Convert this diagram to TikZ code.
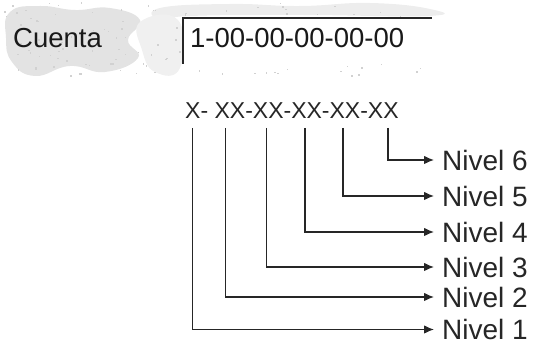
\documentclass[tikz,border=0pt]{standalone}
\usepackage{fontspec}
\setmainfont{Liberation Sans}
\usetikzlibrary{arrows.meta}
\begin{document}
\begin{tikzpicture}[x=1pt,y=1pt,
  lvl/.style={anchor=west,inner sep=0pt,font=\fontsize{28}{30}\selectfont,text=black!85},
  conn/.style={draw=black!85,line width=1.1pt,-{Latex[length=10pt,width=8.5pt]}},
  field/.style={anchor=west,inner sep=0pt,font=\fontsize{27.5}{30}\selectfont,text=black!90}]
\useasboundingbox (0,0) rectangle (536,-344);
% grey noisy background of the form
\fill[black!11] plot[smooth cycle,tension=0.8] coordinates {(10,-12) (40,-6) (75,-10) (110,-8) (140,-20) (128,-40) (138,-58) (105,-72) (70,-66) (35,-76) (12,-62) (6,-38)};
\fill[black!7] plot[smooth cycle,tension=0.8] coordinates {(160,-8) (230,-4) (300,-6) (370,-3) (430,-9) (428,-16) (300,-15) (190,-16) (160,-20)};
\fill[black!6] plot[smooth cycle,tension=0.8] coordinates {(140,-22) (178,-20) (180,-68) (155,-72) (142,-50)};
\pgfmathsetseed{7}
\foreach \k in {1,...,140}{
  \pgfmathsetmacro{\px}{rnd*430+4}
  \pgfmathsetmacro{\py}{-rnd*74-3}
  \fill[black!18] (\px,\py) rectangle ++(1.5,1.5);
}
% text field
\fill[white] (183,-18) rectangle (432,-64);
\draw[black!85,line width=2pt] (183,-64) -- (183,-18) -- (432,-18);
\node[field] (lab) at (13,-38) {Cuenta};
\node[field] (val) at (190,-38.5) {1-00-00-00-00-00};
% mask
\node[anchor=west,inner sep=0pt,font=\fontsize{23}{25}\selectfont,text=black!85] (mask) at (185,-111) {X- XX-XX-XX-XX-XX};
% line tops
\coordinate (t1) at (192.7,-128);
\coordinate (t2) at (225.7,-128);
\coordinate (t3) at (266.7,-128);
\coordinate (t4) at (305,-128);
\coordinate (t5) at (343,-128);
\coordinate (t6) at (388,-128);
% labels
\node[lvl] (n6) at (442,-160) {Nivel 6};
\node[lvl] (n5) at (442,-196) {Nivel 5};
\node[lvl] (n4) at (442,-232) {Nivel 4};
\node[lvl] (n3) at (442,-267) {Nivel 3};
\node[lvl] (n2) at (442,-297) {Nivel 2};
\node[lvl] (n1) at (442,-329.5) {Nivel 1};
% connectors
\foreach \i in {1,...,6}{
  \draw[conn] (t\i) |- ([xshift=-8pt]n\i.west);
}
\end{tikzpicture}
\end{document}
